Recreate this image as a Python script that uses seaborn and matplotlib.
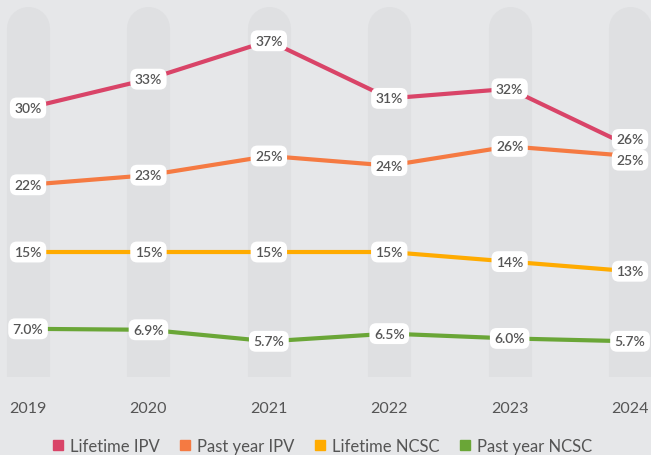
import matplotlib
matplotlib.use("Agg")
import matplotlib.pyplot as plt
from matplotlib.lines import Line2D
import seaborn as sns
import pandas as pd

years = [2019, 2020, 2021, 2022, 2023, 2024]
lifetime_ipv = [30, 33, 37, 31, 32, 26]
past_year_ipv = [22, 23, 25, 24, 26, 25]
lifetime_ncsc = [15, 15, 15, 15, 14, 13]
past_year_ncsc = [7.0, 6.9, 5.7, 6.5, 6.0, 5.7]

series_names = ["Lifetime IPV", "Past year IPV", "Lifetime NCSC", "Past year NCSC"]
colors = ["#d94468", "#f57a42", "#ffab00", "#6aa637"]

rows = []
for name, vals in zip(series_names, [lifetime_ipv, past_year_ipv, lifetime_ncsc, past_year_ncsc]):
    for y, v in zip(years, vals):
        rows.append({"year": y, "value": v, "series": name})
df = pd.DataFrame(rows)

bg = "#e6e7e9"
col_bg = "#dfe0e2"
txt = "#555555"

sns.set_style("white")
plt.rcParams["font.family"] = ["Lato", "DejaVu Sans"]

fig = plt.figure(figsize=(6.51, 4.56), dpi=100, facecolor=bg)
ax = fig.add_axes([0, 0.171, 1, 0.829])
ax.set_facecolor(bg)

# rounded background columns
for y in years:
    ax.plot([y, y], [-5, 38.3], color=col_bg, lw=31, solid_capstyle="round", zorder=0)

sns.lineplot(data=df, x="year", y="value", hue="series", palette=colors,
             linewidth=3, ax=ax, legend=False, zorder=2)

def label(x, v, dy=0, pct_fmt="{:.0f}%"):
    ax.annotate(pct_fmt.format(v), (x, v), xytext=(0, dy), textcoords="offset points",
                ha="center", va="center", fontsize=10, fontweight="semibold", color=txt, zorder=5,
                bbox=dict(boxstyle="round,pad=0.32,rounding_size=0.5", fc="white", ec="none"))

for i, y in enumerate(years):
    label(y, lifetime_ipv[i], dy=(5 if y == 2024 else 0))
    label(y, past_year_ipv[i], dy=(-3 if y == 2024 else 0))
    label(y, lifetime_ncsc[i])
    label(y, past_year_ncsc[i], pct_fmt="{:.1f}%")

ax.set_xlim(2018.767, 2024.174)
ax.set_ylim(1.98, 41.35)
ax.set_xticks(years)
ax.set_xticklabels([str(y) for y in years], fontsize=11.5, color=txt)
ax.tick_params(axis="x", length=0, pad=17)
ax.set_yticks([])
ax.set_xlabel("")
ax.set_ylabel("")
for s in ax.spines.values():
    s.set_visible(False)

handles = [Line2D([], [], marker="s", ls="none", color=c, markersize=7) for c in colors]
leg = fig.legend(handles, series_names, loc="lower center", bbox_to_anchor=(0.493, -0.03),
                 ncol=4, frameon=False, fontsize=12, handletextpad=0.25, columnspacing=1.0,
                 handlelength=1.0)
for t in leg.get_texts():
    t.set_color(txt)

fig.savefig("out.png", dpi=100, facecolor=bg)
